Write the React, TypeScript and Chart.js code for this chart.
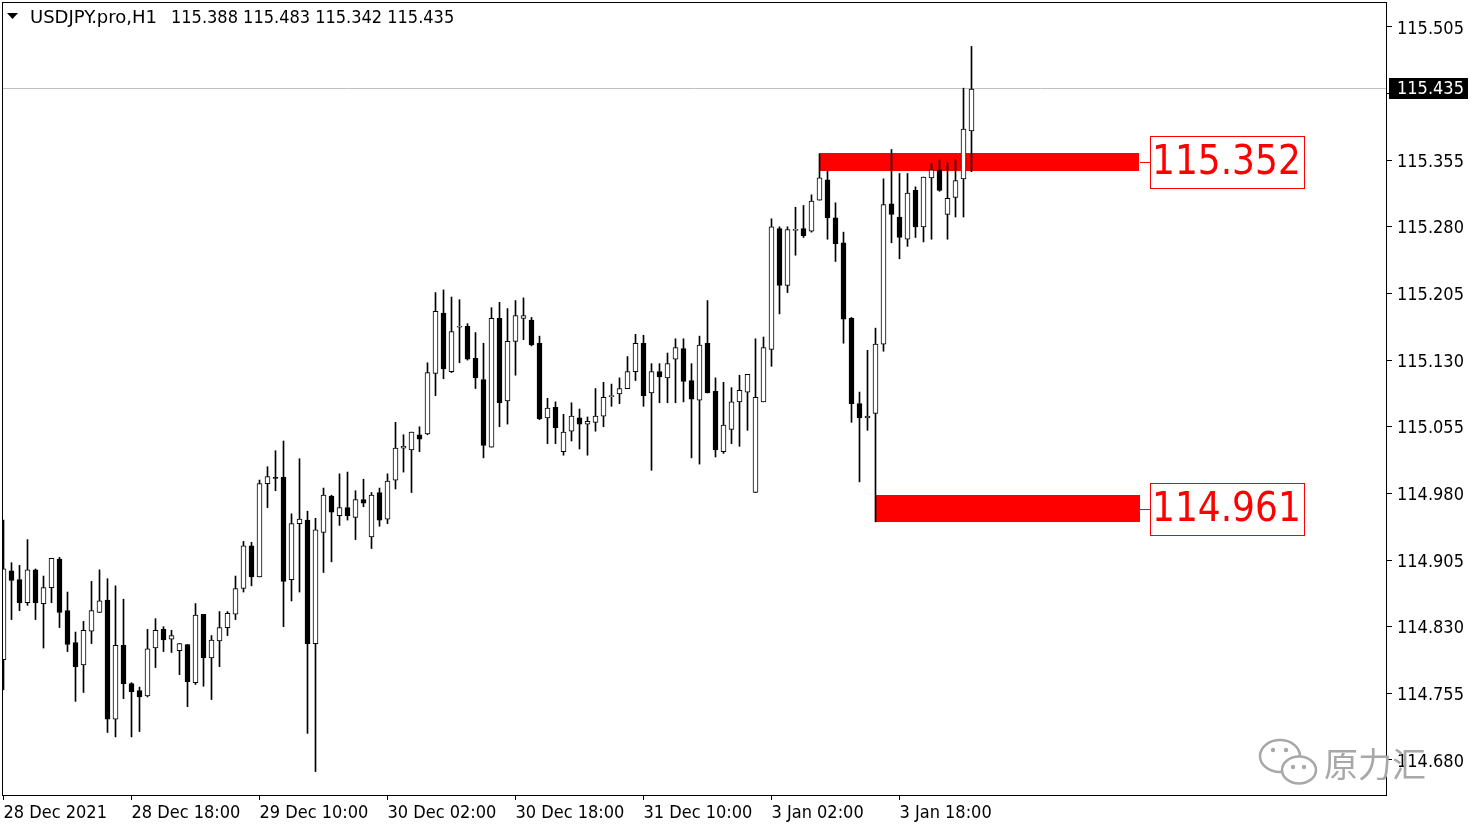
import React, { useEffect, useRef } from 'react';
import { Chart, registerables } from 'chart.js';

Chart.register(...registerables);

// ---------- data ----------
const symbolName = 'USDJPY.pro,H1';
const headerValues = ['115.388', '115.483', '115.342', '115.435'];
const lastPrice = 115.435;
const lastPriceLabel = '115.435';

const timeTickBars = [0, 16, 32, 48, 64, 80, 96, 112];
const timeTickLabels = ['28 Dec 2021', '28 Dec 18:00', '29 Dec 10:00', '30 Dec 02:00', '30 Dec 18:00', '31 Dec 10:00', '3 Jan 02:00', '3 Jan 18:00'];

const yTickValues = [114.68, 114.755, 114.83, 114.905, 114.98, 115.055, 115.13, 115.205, 115.28, 115.355, 115.43, 115.505];
const yTickLabels = ['114.680', '114.755', '114.830', '114.905', '114.980', '115.055', '115.130', '115.205', '115.280', '115.355', '', '115.505'];

const opens = [
  114.793, 114.893, 114.883, 114.857, 114.894, 114.856, 114.874, 114.906, 114.848, 114.812,
  114.787, 114.825, 114.846, 114.860, 114.726, 114.809, 114.766, 114.758, 114.752, 114.806,
  114.827, 114.816, 114.803, 114.810, 114.767, 114.844, 114.795, 114.814, 114.829, 114.844,
  114.873, 114.921, 114.886, 114.991, 114.998, 114.998, 114.883, 114.946, 114.950, 114.811,
  114.936, 114.977, 114.955, 114.964, 114.953, 114.973, 114.931, 114.981, 114.951, 114.995,
  115.031, 115.029, 115.046, 115.047, 115.115, 115.183, 115.117, 115.167, 115.168, 115.132,
  115.108, 115.032, 115.177, 115.084, 115.151, 115.177, 115.175, 115.149, 115.065, 115.077,
  115.027, 115.050, 115.065, 115.058, 115.060, 115.067, 115.089, 115.092, 115.098, 115.117,
  115.149, 115.093, 115.117, 115.110, 115.131, 115.143, 115.107, 115.085, 115.149, 115.095,
  115.027, 115.052, 115.083, 115.094, 114.981, 115.083, 115.142, 115.278, 115.214, 115.276,
  115.278, 115.275, 115.310, 115.333, 115.290, 115.262, 115.177, 115.081, 115.065, 115.070,
  115.148, 115.306, 115.291, 115.266, 115.321, 115.280, 115.335, 115.344, 115.294, 115.313,
  115.334, 115.388,
];
const highs = [
  114.950, 114.902, 114.899, 114.928, 114.895, 114.887, 114.907, 114.908, 114.869, 114.824,
  114.836, 114.881, 114.894, 114.884, 114.876, 114.861, 114.767, 114.762, 114.827, 114.839,
  114.830, 114.826, 114.811, 114.810, 114.856, 114.844, 114.820, 114.847, 114.847, 114.887,
  114.926, 114.925, 114.995, 115.010, 115.028, 115.039, 114.957, 115.019, 114.960, 114.952,
  114.986, 114.978, 115.002, 115.004, 114.983, 114.996, 114.981, 114.986, 115.002, 115.060,
  115.046, 115.049, 115.055, 115.127, 115.206, 115.209, 115.201, 115.198, 115.171, 115.161,
  115.149, 115.189, 115.195, 115.188, 115.197, 115.200, 115.178, 115.157, 115.087, 115.083,
  115.069, 115.082, 115.075, 115.066, 115.098, 115.105, 115.103, 115.110, 115.134, 115.159,
  115.158, 115.126, 115.126, 115.138, 115.154, 115.154, 115.126, 115.157, 115.197, 115.110,
  115.105, 115.099, 115.113, 115.114, 115.154, 115.156, 115.289, 115.280, 115.280, 115.302,
  115.304, 115.316, 115.362, 115.343, 115.307, 115.274, 115.178, 115.094, 115.141, 115.166,
  115.334, 115.367, 115.340, 115.340, 115.325, 115.336, 115.351, 115.355, 115.352, 115.356,
  115.436, 115.483,
];
const lows = [
  114.759, 114.838, 114.848, 114.854, 114.838, 114.806, 114.857, 114.829, 114.802, 114.746,
  114.756, 114.811, 114.846, 114.711, 114.706, 114.749, 114.706, 114.712, 114.751, 114.784,
  114.802, 114.801, 114.776, 114.740, 114.765, 114.763, 114.748, 114.785, 114.820, 114.838,
  114.869, 114.876, 114.886, 114.964, 114.983, 114.830, 114.859, 114.869, 114.710, 114.667,
  114.891, 114.903, 114.944, 114.950, 114.928, 114.965, 114.918, 114.943, 114.946, 114.985,
  115.004, 114.981, 115.027, 115.046, 115.090, 115.109, 115.116, 115.127, 115.130, 115.098,
  115.020, 115.032, 115.055, 115.058, 115.113, 115.153, 115.146, 115.063, 115.036, 115.036,
  115.023, 115.039, 115.030, 115.023, 115.050, 115.055, 115.078, 115.081, 115.098, 115.107,
  115.078, 115.006, 115.082, 115.082, 115.082, 115.083, 115.020, 115.013, 115.093, 115.021,
  115.025, 115.036, 115.033, 115.051, 114.981, 115.083, 115.123, 115.182, 115.206, 115.248,
  115.268, 115.274, 115.310, 115.266, 115.241, 115.149, 115.060, 114.993, 115.051, 114.948,
  115.140, 115.262, 115.244, 115.258, 115.268, 115.263, 115.266, 115.320, 115.266, 115.291,
  115.291, 115.342,
];
const closes = [
  114.895, 114.882, 114.857, 114.894, 114.857, 114.874, 114.907, 114.846, 114.810, 114.785,
  114.826, 114.848, 114.859, 114.726, 114.809, 114.766, 114.757, 114.751, 114.805, 114.826,
  114.815, 114.820, 114.811, 114.768, 114.843, 114.795, 114.815, 114.829, 114.845, 114.873,
  114.921, 114.886, 114.991, 114.999, 114.997, 114.881, 114.946, 114.951, 114.811, 114.939,
  114.978, 114.959, 114.964, 114.955, 114.973, 114.969, 114.978, 114.950, 114.994, 115.031,
  115.033, 115.049, 115.041, 115.116, 115.185, 115.120, 115.162, 115.168, 115.131, 115.110,
  115.034, 115.177, 115.082, 115.151, 115.180, 115.180, 115.147, 115.064, 115.076, 115.054,
  115.049, 115.067, 115.058, 115.061, 115.067, 115.088, 115.090, 115.098, 115.117, 115.149,
  115.090, 115.117, 115.111, 115.126, 115.144, 115.106, 115.086, 115.147, 115.093, 115.029,
  115.057, 115.083, 115.096, 115.114, 115.088, 115.144, 115.280, 115.214, 115.277, 115.277,
  115.270, 115.309, 115.335, 115.290, 115.261, 115.176, 115.081, 115.065, 115.067, 115.148,
  115.305, 115.294, 115.268, 115.318, 115.280, 115.336, 115.344, 115.321, 115.312, 115.332,
  115.390, 115.435,
];

const zoneStartBar = [102, 109];
const zoneEndBar = [142, 142];
const zoneHigh = [115.363, 114.978];
const zoneLow = [115.343, 114.948];
const zoneLabels = ['115.352', '114.961'];

const watermarkText = '原力汇';

// ---------- styling ----------
const FONT = '"DejaVu Sans Condensed", "DejaVu Sans", sans-serif';
const X_MIN = -0.1875;
const X_MAX = 172.9375;
const Y_MIN = 114.6406;
const Y_MAX = 115.533;

const overlayPlugin = {
  id: 'mtOverlay',
  beforeDatasetsDraw(chart: any) {
    const { ctx, chartArea, scales } = chart;
    const x = scales.x;
    const y = scales.y;
    ctx.save();
    ctx.beginPath();
    ctx.rect(chartArea.left, chartArea.top, chartArea.right - chartArea.left, chartArea.bottom - chartArea.top);
    ctx.clip();
    const yb = Math.floor(y.getPixelForValue(lastPrice)) - 0.5;
    ctx.strokeStyle = '#c0c0c0';
    ctx.lineWidth = 1;
    ctx.beginPath();
    ctx.moveTo(chartArea.left, yb);
    ctx.lineTo(chartArea.right, yb);
    ctx.stroke();
    ctx.fillStyle = '#ff0000';
    for (let i = 0; i < zoneLabels.length; i++) {
      const x0 = x.getPixelForValue(zoneStartBar[i]);
      const x1 = x.getPixelForValue(zoneEndBar[i]);
      const y0 = y.getPixelForValue(zoneHigh[i]);
      const y1 = y.getPixelForValue(zoneLow[i]);
      ctx.fillRect(Math.round(x0), Math.round(y0), Math.round(x1 - x0), Math.round(y1 - y0));
    }
    ctx.restore();
  },
  afterDraw(chart: any) {
    const { ctx, chartArea, scales } = chart;
    const x = scales.x;
    const y = scales.y;
    ctx.save();
    for (let i = 0; i < zoneLabels.length; i++) {
      const x1 = Math.round(x.getPixelForValue(zoneEndBar[i]));
      const ym = (y.getPixelForValue(zoneHigh[i]) + y.getPixelForValue(zoneLow[i])) / 2;
      ctx.strokeStyle = '#ff0000';
      ctx.lineWidth = 1;
      ctx.beginPath();
      ctx.moveTo(x1, Math.round(ym) + 0.5);
      ctx.lineTo(x1 + 11, Math.round(ym) + 0.5);
      ctx.stroke();
      ctx.font = `40px ${FONT}`;
      const w = ctx.measureText(zoneLabels[i]).width;
      const bx = x1 + 10;
      const bw = Math.round(w + 5);
      const bh = 52;
      const by = Math.round(ym - bh / 2);
      ctx.strokeRect(bx + 0.5, by + 0.5, bw, bh);
      ctx.fillStyle = '#ff0000';
      ctx.textBaseline = 'middle';
      ctx.textAlign = 'left';
      ctx.fillText(zoneLabels[i], bx + 2, ym + 2);
    }
    ctx.strokeStyle = '#000';
    ctx.lineWidth = 1;
    ctx.strokeRect(chartArea.left + 0.5, chartArea.top + 0.5, chartArea.right - chartArea.left - 1, chartArea.bottom - chartArea.top);
    // header
    ctx.fillStyle = '#000';
    ctx.beginPath();
    ctx.moveTo(7, 13);
    ctx.lineTo(18, 13);
    ctx.lineTo(12.5, 19);
    ctx.closePath();
    ctx.fill();
    ctx.font = `18px ${FONT}`;
    ctx.textBaseline = 'middle';
    ctx.textAlign = 'left';
    const sw = ctx.measureText(symbolName).width;
    ctx.save();
    ctx.translate(30, 18);
    ctx.scale(127 / sw, 1);
    ctx.fillText(symbolName, 0, 0);
    ctx.restore();
    ctx.fillText(headerValues.join(' '), 171, 18);
    // current price label
    const yp = y.getPixelForValue(lastPrice);
    ctx.fillStyle = '#000';
    ctx.fillRect(1389, Math.round(yp) - 11, 79, 21);
    ctx.fillStyle = '#fff';
    ctx.fillText(lastPriceLabel, 1397, Math.round(yp) + 0.5);
    // watermark
    ctx.strokeStyle = '#a8a8a8';
    ctx.fillStyle = '#a8a8a8';
    ctx.lineWidth = 2.5;
    ctx.beginPath();
    ctx.ellipse(1280, 756, 20, 16, 0, 0, Math.PI * 2);
    ctx.stroke();
    ctx.fillStyle = '#ffffff';
    ctx.beginPath();
    ctx.ellipse(1299, 770, 17, 13.5, 0, 0, Math.PI * 2);
    ctx.fill();
    ctx.stroke();
    ctx.fillStyle = '#a8a8a8';
    [[1273, 750], [1286, 750], [1293, 767], [1304, 767]].forEach(([cx, cy]) => {
      ctx.beginPath();
      ctx.arc(cx, cy, 2.2, 0, Math.PI * 2);
      ctx.fill();
    });
    ctx.font = `34px "Noto Sans CJK SC", sans-serif`;
    ctx.fillText(watermarkText, 1324, 764);
    ctx.restore();
  },
};

export default function App() {
  const canvasRef = useRef<HTMLCanvasElement | null>(null);

  useEffect(() => {
    document.body.style.margin = '0';
    const canvas = canvasRef.current;
    if (!canvas) return;
    const chart = new Chart(canvas, {
      type: 'bar',
      data: {
        datasets: [
          {
            label: 'body',
            data: opens.map((o, i) => ({ x: i, y: [o, closes[i]] })) as any,
            backgroundColor: opens.map((o, i) => (closes[i] >= o ? '#ffffff' : '#000000')),
            borderColor: '#000000',
            borderWidth: 1,
            borderSkipped: false,
            barThickness: 5,
            minBarLength: 1,
            grouped: false,
            order: 0,
          } as any,
          {
            label: 'wick',
            data: highs.map((h, i) => ({ x: i, y: [lows[i], h] })) as any,
            backgroundColor: '#000000',
            borderWidth: 0,
            barThickness: 1,
            grouped: false,
            order: 1,
          } as any,
        ],
      },
      options: {
        animation: false,
        responsive: false,
        events: [],
        layout: { padding: { left: 2, top: 2, right: 0, bottom: 0 } },
        plugins: { legend: { display: false }, tooltip: { enabled: false }, title: { display: false } },
        scales: {
          x: {
            type: 'linear',
            min: X_MIN,
            max: X_MAX,
            offset: false,
            border: { display: false },
            grid: { display: true, drawOnChartArea: false, drawTicks: true, tickLength: 5, color: '#000000', offset: false },
            ticks: {
              autoSkip: false,
              maxRotation: 0,
              minRotation: 0,
              align: 'start',
              padding: 3,
              color: '#000000',
              font: { family: FONT, size: 18 },
              callback: (v: any) => {
                const k = timeTickBars.indexOf(Number(v));
                return k >= 0 ? timeTickLabels[k] : '';
              },
            },
            afterBuildTicks: (s: any) => {
              s.ticks = timeTickBars.map((v) => ({ value: v }));
            },
            afterFit: (s: any) => {
              s.height = 33;
              s.paddingLeft = 0;
              s.paddingRight = 0;
            },
          } as any,
          y: {
            type: 'linear',
            position: 'right',
            min: Y_MIN,
            max: Y_MAX,
            border: { display: false },
            grid: { display: true, drawOnChartArea: false, drawTicks: true, tickLength: 5, color: '#000000' },
            ticks: {
              padding: 5,
              labelOffset: 2,
              color: '#000000',
              font: { family: FONT, size: 18 },
              callback: (v: any) => {
                const k = yTickValues.findIndex((t) => Math.abs(t - Number(v)) < 1e-6);
                return k >= 0 ? yTickLabels[k] : '';
              },
            },
            afterBuildTicks: (s: any) => {
              s.ticks = yTickValues.map((v) => ({ value: v }));
            },
            afterFit: (s: any) => {
              s.width = 92;
              s.paddingTop = 0;
              s.paddingBottom = 0;
            },
          } as any,
        },
      },
      plugins: [overlayPlugin],
    });
    return () => chart.destroy();
  }, []);

  return (
    <div style={{ width: 1479, height: 828, background: '#fff' }}>
      <canvas ref={canvasRef} width={1479} height={828} style={{ display: 'block' }} />
    </div>
  );
}
